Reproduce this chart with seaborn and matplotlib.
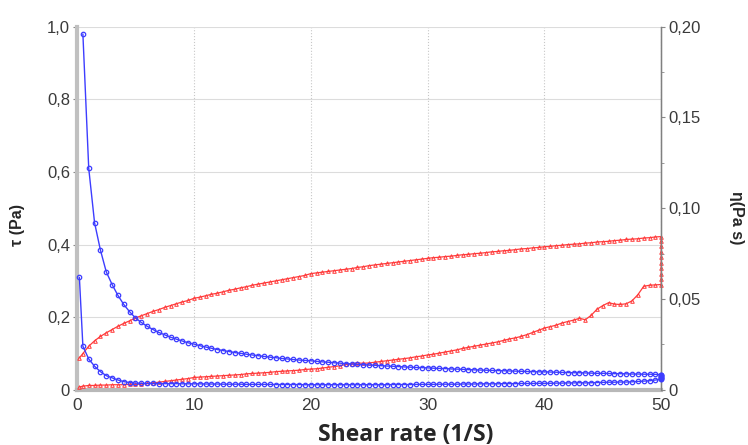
import matplotlib
matplotlib.use("Agg")
import matplotlib.pyplot as plt
import pandas as pd
import seaborn as sns
from matplotlib.ticker import FuncFormatter, MultipleLocator

# shear rate steps (1/s)
rate_up = [0.2, 0.5, 1, 1.5, 2, 2.5, 3, 3.5, 4, 4.5, 5, 5.5, 6, 6.5, 7, 7.5, 8, 8.5, 9, 9.5,
           10, 10.5, 11, 11.5, 12, 12.5, 13, 13.5, 14, 14.5, 15, 15.5, 16, 16.5, 17, 17.5, 18, 18.5, 19, 19.5,
           20, 20.5, 21, 21.5, 22, 22.5, 23, 23.5, 24, 24.5, 25, 25.5, 26, 26.5, 27, 27.5, 28, 28.5, 29, 29.5,
           30, 30.5, 31, 31.5, 32, 32.5, 33, 33.5, 34, 34.5, 35, 35.5, 36, 36.5, 37, 37.5, 38, 38.5, 39, 39.5,
           40, 40.5, 41, 41.5, 42, 42.5, 43, 43.5, 44, 44.5, 45, 45.5, 46, 46.5, 47, 47.5, 48, 48.5, 49, 49.5,
           50]
rate_hold = [50, 50, 50, 50, 50, 50, 50, 50]
rate_down = [50, 49.5, 49, 48.5, 48, 47.5, 47, 46.5, 46, 45.5, 45, 44.5, 44, 43.5, 43, 42.5, 42, 41.5, 41, 40.5,
             40, 39.5, 39, 38.5, 38, 37.5, 37, 36.5, 36, 35.5, 35, 34.5, 34, 33.5, 33, 32.5, 32, 31.5, 31, 30.5,
             30, 29.5, 29, 28.5, 28, 27.5, 27, 26.5, 26, 25.5, 25, 24.5, 24, 23.5, 23, 22.5, 22, 21.5, 21, 20.5,
             20, 19.5, 19, 18.5, 18, 17.5, 17, 16.5, 16, 15.5, 15, 14.5, 14, 13.5, 13, 12.5, 12, 11.5, 11, 10.5,
             10, 9.5, 9, 8.5, 8, 7.5, 7, 6.5, 6, 5.5, 5, 4.5, 4, 3.5, 3, 2.5, 2, 1.5, 1, 0.5,
             0.2]

# shear stress tau (Pa)
tau_up = [0.088, 0.100, 0.120, 0.135, 0.147, 0.157, 0.166, 0.175, 0.183, 0.190,
          0.198, 0.204, 0.210, 0.216, 0.221, 0.227, 0.232, 0.237, 0.242, 0.246,
          0.252, 0.255, 0.259, 0.263, 0.266, 0.270, 0.274, 0.277, 0.281, 0.284,
          0.288, 0.291, 0.294, 0.297, 0.300, 0.303, 0.306, 0.309, 0.312, 0.315,
          0.320, 0.322, 0.324, 0.326, 0.328, 0.330, 0.332, 0.334, 0.337, 0.339,
          0.342, 0.344, 0.346, 0.348, 0.350, 0.352, 0.354, 0.356, 0.358, 0.360,
          0.362, 0.364, 0.365, 0.367, 0.368, 0.370, 0.372, 0.373, 0.375, 0.376,
          0.378, 0.380, 0.381, 0.383, 0.384, 0.386, 0.388, 0.389, 0.391, 0.392,
          0.394, 0.395, 0.397, 0.398, 0.400, 0.401, 0.402, 0.404, 0.405, 0.407,
          0.408, 0.409, 0.411, 0.412, 0.414, 0.415, 0.416, 0.418, 0.419, 0.421,
          0.422]
tau_hold = [0.410, 0.395, 0.380, 0.365, 0.350, 0.335, 0.320, 0.305]
tau_down = [0.290, 0.289, 0.288, 0.285, 0.262, 0.245, 0.237, 0.235, 0.236, 0.240,
            0.232, 0.222, 0.205, 0.193, 0.197, 0.192, 0.188, 0.184, 0.178, 0.174,
            0.170, 0.164, 0.158, 0.152, 0.147, 0.143, 0.140, 0.136, 0.132, 0.129,
            0.126, 0.123, 0.120, 0.117, 0.114, 0.110, 0.107, 0.104, 0.101, 0.098,
            0.096, 0.093, 0.091, 0.088, 0.086, 0.084, 0.082, 0.080, 0.078, 0.076,
            0.074, 0.073, 0.074, 0.072, 0.070, 0.066, 0.064, 0.062, 0.060, 0.058,
            0.057, 0.056, 0.054, 0.053, 0.052, 0.051, 0.050, 0.048, 0.047, 0.046,
            0.045, 0.044, 0.042, 0.041, 0.040, 0.039, 0.038, 0.037, 0.036, 0.035,
            0.034, 0.031, 0.029, 0.027, 0.025, 0.023, 0.021, 0.019, 0.018, 0.016,
            0.015, 0.015, 0.014, 0.014, 0.014, 0.013, 0.013, 0.012, 0.012, 0.010,
            0.008]

# viscosity eta (Pa s)
eta_up = [None, 0.196, 0.122, 0.092, 0.077, 0.065, 0.058, 0.052, 0.047, 0.043,
          0.0396, 0.0371, 0.0350, 0.0332, 0.0316, 0.0303, 0.0290, 0.0279, 0.0269, 0.0259,
          0.0252, 0.0243, 0.0236, 0.0229, 0.0222, 0.0216, 0.0211, 0.0205, 0.0201, 0.0196,
          0.0192, 0.0188, 0.0184, 0.0180, 0.0177, 0.0173, 0.0170, 0.0167, 0.0164, 0.0162,
          0.0160, 0.0157, 0.0154, 0.0152, 0.0149, 0.0147, 0.0144, 0.0142, 0.0140, 0.0138,
          0.0137, 0.0135, 0.0133, 0.0131, 0.0130, 0.0128, 0.0126, 0.0125, 0.0123, 0.0122,
          0.0121, 0.0119, 0.0118, 0.0117, 0.0115, 0.0114, 0.0113, 0.0111, 0.0110, 0.0109,
          0.0108, 0.0107, 0.0106, 0.0105, 0.0104, 0.0103, 0.0102, 0.0101, 0.0100, 0.0099,
          0.0099, 0.0098, 0.0097, 0.0096, 0.0095, 0.0094, 0.0094, 0.0093, 0.0092, 0.0091,
          0.0091, 0.0090, 0.0089, 0.0089, 0.0088, 0.0087, 0.0087, 0.0086, 0.0086, 0.0085,
          0.0084]
eta_hold = [0.0082, 0.0079, 0.0076, 0.0073, 0.0070, 0.0067, 0.0064, 0.0061]
eta_down = [0.0058, 0.0054, 0.0050, 0.0048, 0.0046, 0.0044, 0.0043, 0.0043, 0.0042, 0.0042,
            0.0041, 0.0040, 0.0039, 0.0038, 0.0039, 0.0038, 0.0038, 0.0037, 0.0037, 0.0036,
            0.0036, 0.0036, 0.0035, 0.0035, 0.0035, 0.0034, 0.0034, 0.0034, 0.0033, 0.0033,
            0.0033, 0.0033, 0.0032, 0.0032, 0.0032, 0.0031, 0.0031, 0.0031, 0.0031, 0.0030,
            0.0030, 0.0030, 0.0030, 0.0029, 0.0029, 0.0029, 0.0029, 0.0028, 0.0028, 0.0028,
            0.0028, 0.0028, 0.0028, 0.0028, 0.0028, 0.0028, 0.0028, 0.0028, 0.0028, 0.0028,
            0.0028, 0.0028, 0.0029, 0.0029, 0.0029, 0.0029, 0.0029, 0.0030, 0.0030, 0.0030,
            0.0030, 0.0030, 0.0031, 0.0031, 0.0031, 0.0031, 0.0032, 0.0032, 0.0032, 0.0033,
            0.0033, 0.0033, 0.0033, 0.0034, 0.0034, 0.0034, 0.0034, 0.0035, 0.0035, 0.0036,
            0.0037, 0.0040, 0.0045, 0.0054, 0.0066, 0.0078, 0.0100, 0.0130, 0.0170, 0.0240,
            0.0620]

df = pd.DataFrame({
    'rate': rate_up + rate_hold + rate_down,
    'tau': tau_up + tau_hold + tau_down,
    'eta': eta_up + eta_hold + eta_down,
})

sns.set_style('white')
plt.rcParams['font.family'] = ['Liberation Sans', 'DejaVu Sans']

red = '#ff3b3b'
blue = '#3d3dff'
tick_col = '#3a3a3a'

fig, ax = plt.subplots(figsize=(7.48, 4.45), dpi=100)
fig.subplots_adjust(left=0.103, right=0.884, bottom=0.124, top=0.94)
ax2 = ax.twinx()

sns.lineplot(data=df, x='rate', y='tau', ax=ax, sort=False, estimator=None, color=red,
             marker='^', markersize=2.6, markerfacecolor='none', markeredgecolor=red,
             markeredgewidth=0.7, linewidth=0.9, clip_on=False, zorder=3)
sns.lineplot(data=df.dropna(), x='rate', y='eta', ax=ax2, sort=False, estimator=None, color=blue,
             marker='o', markersize=3.2, markerfacecolor='none', markeredgecolor=blue,
             markeredgewidth=0.9, linewidth=1.0, clip_on=False, zorder=3)

ax.set_xlim(0, 50)
ax.set_ylim(0, 1.0)
ax2.set_ylim(0, 0.20)

ax.xaxis.set_major_locator(MultipleLocator(10))
ax.xaxis.set_minor_locator(MultipleLocator(5))
ax.yaxis.set_major_locator(MultipleLocator(0.2))
ax2.yaxis.set_major_locator(MultipleLocator(0.05))
ax2.yaxis.set_minor_locator(MultipleLocator(0.025))

ax.yaxis.set_major_formatter(FuncFormatter(lambda v, p: '0' if v == 0 else f'{v:.1f}'.replace('.', ',')))
ax2.yaxis.set_major_formatter(FuncFormatter(lambda v, p: '0' if v == 0 else f'{v:.2f}'.replace('.', ',')))
ax.xaxis.set_major_formatter(FuncFormatter(lambda v, p: f'{v:.0f}'))

ax.grid(axis='y', color='#dcdcdc', linewidth=0.8, linestyle='-')
ax.grid(axis='x', color='#c8c8c8', linewidth=0.8, linestyle=':')
ax.set_axisbelow(True)

for a in (ax, ax2):
    a.spines['top'].set_visible(False)
ax.spines['left'].set_color('#c0c0c0')
ax.spines['left'].set_linewidth(3)
ax.spines['bottom'].set_color('#b8b8b8')
ax.spines['bottom'].set_linewidth(3)
ax2.spines['left'].set_visible(False)
ax2.spines['bottom'].set_visible(False)
ax2.spines['right'].set_color('#808080')
ax2.spines['right'].set_linewidth(1)

ax.tick_params(axis='x', which='major', length=3, color='#888888', labelsize=12.5, labelcolor=tick_col, pad=3)
ax.tick_params(axis='x', which='minor', length=2, color='#888888')
ax.tick_params(axis='y', length=3, color='#888888', labelsize=12, labelcolor=tick_col, pad=2)
ax2.tick_params(axis='y', which='major', length=3, color='#888888', labelsize=12, labelcolor=tick_col, pad=2)
ax2.tick_params(axis='y', which='minor', length=2, color='#888888')

ax.set_xlabel('Shear rate (1/S)', fontsize=16.5, fontweight='bold', family=['Open Sans', 'DejaVu Sans'])
ax.xaxis.set_label_coords(0.562, -0.09)
ax.set_ylabel('τ (Pa)', fontsize=11.5, fontweight='bold')
ax.yaxis.set_label_coords(-0.089, 0.454)
ax2.set_ylabel('η(Pa s)', fontsize=11.5, fontweight='bold', rotation=270, va='center')
ax2.yaxis.set_label_coords(1.128, 0.473)

fig.savefig('out.png', dpi=100)
